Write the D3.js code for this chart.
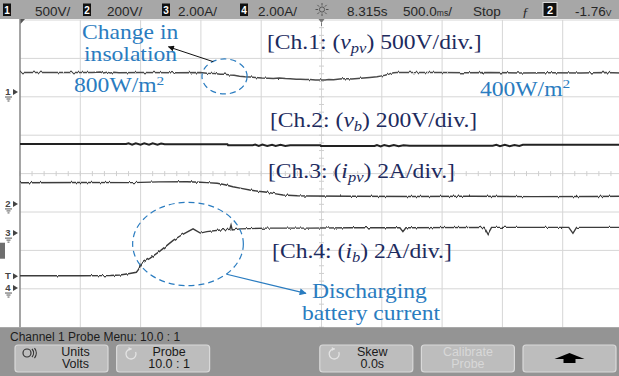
<!DOCTYPE html>
<html><head><meta charset="utf-8">
<script src="https://cdn.jsdelivr.net/npm/d3@7"></script>
<style>html,body{margin:0;padding:0;background:#fff;overflow:hidden}</style>
</head><body><svg id="c" width="619" height="376"></svg>
<script>
// ---- data: time in seconds (500 ms/div), vertical value in screen divisions ----
const ch1 = [[0,2.63],[0.3,2.63],[0.6,2.632],[0.665,2.645],[0.69,2.62],[0.72,2.642],[0.75,2.618],[0.78,2.64],[0.82,2.628],[1.0,2.63],[1.3,2.628],[1.495,2.63],[1.55,2.615],[1.615,2.605],[1.66,2.59],[1.7,2.585],[1.74,2.57],[1.775,2.56],[1.82,2.535],[1.865,2.52],[1.91,2.515],[1.95,2.505],[2.005,2.49],[2.06,2.485],[2.1,2.478],[2.15,2.492],[2.2,2.475],[2.24,2.47],[2.29,2.458],[2.325,2.455],[2.37,2.448],[2.405,2.45],[2.45,2.44],[2.53,2.437],[2.56,2.448],[2.6,2.445],[2.65,2.462],[2.68,2.47],[2.72,2.468],[2.75,2.465],[2.8,2.478],[2.85,2.49],[2.9,2.505],[2.96,2.52],[3.0,2.545],[3.025,2.56],[3.06,2.59],[3.075,2.61],[3.1,2.625],[3.125,2.635],[3.3,2.63],[3.5,2.635],[3.7,2.625],[3.9,2.632],[4.15,2.62],[4.4,2.628],[4.65,2.62],[4.85,2.63],[5.0,2.622]];
const ch2 = [[0,0.771],[0.88,0.771],[0.9,0.79],[0.93,0.752],[0.96,0.79],[1.0,0.755],[1.03,0.788],[1.07,0.752],[1.1,0.79],[1.14,0.755],[1.17,0.785],[1.2,0.763],[1.72,0.763],[1.725,0.74],[1.93,0.74],[1.95,0.755],[1.98,0.72],[2.01,0.755],[2.05,0.72],[2.09,0.752],[2.12,0.722],[2.16,0.75],[2.2,0.72],[2.24,0.74],[2.49,0.74],[2.495,0.719],[2.94,0.719],[2.96,0.745],[2.99,0.71],[3.02,0.742],[3.06,0.71],[3.1,0.745],[3.14,0.712],[3.18,0.74],[3.23,0.728],[3.92,0.728],[3.95,0.75],[3.98,0.715],[4.02,0.748],[4.06,0.715],[4.1,0.745],[4.14,0.72],[4.17,0.75],[5.0,0.75]];
const ch3 = [[0,-0.237],[0.5,-0.232],[0.93,-0.235],[1.15,-0.215],[1.385,-0.211],[1.495,-0.225],[1.55,-0.235],[1.635,-0.253],[1.7,-0.29],[1.765,-0.341],[1.835,-0.385],[1.905,-0.427],[1.975,-0.46],[2.05,-0.487],[2.11,-0.52],[2.18,-0.557],[2.3,-0.575],[2.405,-0.583],[2.75,-0.59],[3.25,-0.595],[3.75,-0.59],[4.25,-0.6],[4.75,-0.595],[5.0,-0.59]];
const ch4 = [[0,-2.659],[0.5,-2.66],[0.75,-2.655],[0.83,-2.64],[0.91,-2.60],[0.965,-2.57],[0.98,-2.51],[1.01,-2.33],[1.08,-2.2],[1.16,-2.02],[1.27,-1.74],[1.35,-1.58],[1.435,-1.44],[1.495,-1.55],[1.55,-1.51],[1.66,-1.47],[1.74,-1.45],[1.75,-1.34],[1.76,-1.47],[1.825,-1.44],[2.05,-1.42],[2.405,-1.42],[2.75,-1.41],[3.15,-1.41],[3.175,-1.51],[3.2,-1.41],[3.85,-1.40],[3.88,-1.573],[3.91,-1.40],[4.55,-1.40],[4.585,-1.555],[4.615,-1.40],[5.0,-1.40]];

const headerItems = [
  {box:"1", text:"500V/"}, {box:"2", text:"200V/"}, {box:"3", text:"2.00A/"}, {box:"4", text:"2.00A/"}
];
const statusTime = "8.315s";
const statusRun = "Stop";
const trigLevel = "-1.76";
const chMarkers = [{label:"1", level:2.125, gnd:true},{label:"2", level:-0.79, gnd:true},{label:"3", level:-1.55, gnd:true},{label:"T", level:-2.67, gnd:false},{label:"4", level:-2.98, gnd:true}];
const menuTitle = "Channel 1  Probe Menu: 10.0 : 1";
const buttons = [
  {l1:"Units", l2:"Volts", icon:"knob", dim:false},
  {l1:"Probe", l2:"10.0 : 1", icon:"rot", dim:false},
  null,
  {l1:"Skew", l2:"0.0s", icon:"rot", dim:false},
  {l1:"Calibrate", l2:"Probe", icon:null, dim:true},
  {l1:null, l2:null, icon:"up", dim:false}
];

// ---- drawing ----
const W=619, H=376;
const svg = d3.select('#c');
const x = d3.scaleLinear().domain([0,5]).range([20, 20+10*60.3]);
const y = d3.scaleLinear().domain([4,-4]).range([20, 20+8*38.4]);

const defs = svg.append('defs');
defs.append('clipPath').attr('id','plotclip').append('rect')
  .attr('x',x(0)).attr('y',y(4)).attr('width',W-x(0)).attr('height',y(-4)-y(4));
const f = defs.append('filter').attr('id','jit').attr('x','-2%').attr('y','-200%').attr('width','104%').attr('height','500%')
  .attr('color-interpolation-filters','sRGB');
f.append('feTurbulence').attr('type','fractalNoise').attr('baseFrequency','0.45 0.01').attr('numOctaves',1).attr('seed',4).attr('result','n');
f.append('feColorMatrix').attr('in','n').attr('type','matrix')
  .attr('values','0 0 0 0 0.5  1 0 0 0 0  0 0 0 0 0  0 0 0 0 1').attr('result','m');
f.append('feDisplacementMap').attr('in','SourceGraphic').attr('in2','m').attr('scale',3.2)
  .attr('xChannelSelector','R').attr('yChannelSelector','G');

function arrowMarker(id, color, w, h){
  const m = defs.append('marker').attr('id',id).attr('viewBox','0 0 10 10').attr('refX',9).attr('refY',5)
    .attr('markerUnits','userSpaceOnUse').attr('markerWidth',w).attr('markerHeight',h).attr('orient','auto');
  m.append('path').attr('d','M0,0 L10,5 L0,10 Z').attr('fill',color);
}
arrowMarker('ahBlack','#111',8,6);
arrowMarker('ahBlue','#2a7cc0',9,7);

svg.append('rect').attr('width',W).attr('height',H).attr('fill','#fff');

// grid
const grid = svg.append('g');
grid.selectAll('line.v').data(d3.range(0.5,5.001,0.5)).join('line')
  .attr('x1',d=>x(d)).attr('x2',d=>x(d)).attr('y1',y(4)).attr('y2',y(-4))
  .attr('stroke','#d6d6d6').attr('stroke-width',1);
grid.selectAll('line.h').data(d3.range(-3,4.001,1)).join('line')
  .attr('x1',x(0)).attr('x2',W).attr('y1',d=>y(d)).attr('y2',d=>y(d))
  .attr('stroke','#d6d6d6').attr('stroke-width',1);
grid.selectAll('line.mt').data(d3.range(0,5.001,0.1)).join('line')
  .attr('x1',d=>x(d)).attr('x2',d=>x(d)).attr('y1',y(0)-2.5).attr('y2',y(0)+2.5)
  .attr('stroke','#cfcfcf').attr('stroke-width',1);
grid.selectAll('line.mv').data(d3.range(-4,4.001,0.2)).join('line')
  .attr('x1',x(2.5)-2.5).attr('x2',x(2.5)+2.5).attr('y1',d=>y(d)).attr('y2',d=>y(d))
  .attr('stroke','#cfcfcf').attr('stroke-width',1);
grid.append('line').attr('x1',x(0)).attr('x2',x(0)).attr('y1',0).attr('y2',y(-4))
  .attr('stroke','#8e8e8e').attr('stroke-width',1.6);

// traces
const line = d3.line().x(d=>x(d[0])).y(d=>y(d[1]));
const tr = svg.append('g').attr('clip-path','url(#plotclip)');
tr.append('path').datum(ch1).attr('d',line).attr('fill','none').attr('stroke','#4a4a4a').attr('stroke-width',1.5).attr('filter','url(#jit)');
tr.append('path').datum(ch2).attr('d',line).attr('fill','none').attr('stroke','#222').attr('stroke-width',2);
tr.append('path').datum(ch3).attr('d',line).attr('fill','none').attr('stroke','#3c3c3c').attr('stroke-width',1.4).attr('filter','url(#jit)');
tr.append('path').datum(ch4).attr('d',line).attr('fill','none').attr('stroke','#3c3c3c').attr('stroke-width',1.4).attr('filter','url(#jit)');

// channel markers on left
const mk = svg.append('g').attr('fill','#444').attr('font-family','Liberation Sans, Arial, sans-serif');
chMarkers.forEach(m=>{
  const yy = y(m.level);
  mk.append('text').attr('x',8).attr('y',yy+3).attr('font-size',9.5).attr('font-weight','bold').attr('text-anchor','middle').text(m.label);
  mk.append('path').attr('d',`M13,${yy-3} L18,${yy} L13,${yy+3} Z`);
  if(m.gnd){
    mk.append('path').attr('d',`M5,${yy+5} H12 M6.5,${yy+7} H10.5 M7.5,${yy+9} H9.5`).attr('stroke','#555').attr('stroke-width',1);
  }
});
svg.append('rect').attr('x',0).attr('y',y(-1.8)).attr('width',5).attr('height',16).attr('fill','#6e6e6e');

// header
const hdr = svg.append('g').attr('font-family','Liberation Sans, Arial, sans-serif').attr('font-size',13.5).attr('fill','#262626');
hdr.append('rect').attr('width',W).attr('height',19).attr('fill','#a7a7a7');
const hdrPos = [[3,35],[83,107],[162,178],[240,258]];
headerItems.forEach((h,i)=>{
  hdr.append('rect').attr('x',hdrPos[i][0]).attr('y',3.5).attr('width',8).attr('height',12.5).attr('fill','#111');
  hdr.append('text').attr('x',hdrPos[i][0]+4).attr('y',14).attr('font-size',10).attr('font-weight','bold').attr('fill','#fff').attr('text-anchor','middle').text(h.box);
  hdr.append('text').attr('x',hdrPos[i][1]).attr('y',15.5).text(h.text);
});
// acquisition icon
const sun = hdr.append('g').attr('transform','translate(322,9.5)').attr('stroke','#555').attr('stroke-width',1).attr('fill','none');
sun.append('circle').attr('r',2.6);
d3.range(8).forEach(k=>{const a=k*Math.PI/4; sun.append('line').attr('x1',4*Math.cos(a)).attr('y1',4*Math.sin(a)).attr('x2',6.5*Math.cos(a)).attr('y2',6.5*Math.sin(a));});
hdr.append('text').attr('x',347).attr('y',15.5).text(statusTime);
const tb = hdr.append('text').attr('x',403).attr('y',15.5);
tb.append('tspan').text('500.0'); tb.append('tspan').attr('font-size',8.5).text('ms'); tb.append('tspan').text('/');
hdr.append('text').attr('x',473).attr('y',15.5).text(statusRun);
hdr.append('text').attr('x',522).attr('y',15.5).attr('font-style','italic').attr('font-family','Liberation Serif, serif').text('ƒ');
hdr.append('rect').attr('x',543).attr('y',2.5).attr('width',14).attr('height',14).attr('fill','#111').attr('stroke','#ddd').attr('stroke-width',1);
hdr.append('text').attr('x',550).attr('y',14).attr('font-size',11).attr('font-weight','bold').attr('fill','#fff').attr('text-anchor','middle').text('2');
const tl = hdr.append('text').attr('x',575).attr('y',15.5);
tl.append('tspan').text(trigLevel); tl.append('tspan').attr('font-size',8.5).text('V');
// top markers
svg.append('path').attr('d',`M${x(0)+0.5},19 L${x(0)+5},19 L${x(0)+0.5},24 Z`).attr('fill','#555');
svg.append('path').attr('d',`M${x(2.5)-3},19 L${x(2.5)+3},19 L${x(2.5)},23 Z M${x(2.5)-0.5},23 h1 v3 h-1 Z`).attr('fill','#777');

// annotations
const blue = '#2a7cc0', navy = '#1d2b5e';
const ann = svg.append('g').attr('font-family','Liberation Serif, Times New Roman, serif').attr('font-size',20);
function label(t, v, color){
  return ann.append('text').attr('transform',`translate(${x(t)},${y(v)}) scale(1.18,1)`).attr('fill',color);
}
label(0.514,3.518,blue).text('Change in');
label(0.531,2.940,blue).text('insolation');
let tt = label(0.448,2.112,blue); tt.append('tspan').text('800W/m'); tt.append('tspan').attr('font-size',13).attr('dy',-8).text('2');
tt = label(3.814,2.021,blue); tt.append('tspan').text('400W/m'); tt.append('tspan').attr('font-size',13).attr('dy',-8).text('2');
function chLabel(t, v, num, sym, sub, scale){
  const e = label(t, v, navy);
  e.append('tspan').text(`[Ch.${num}: (`);
  e.append('tspan').attr('font-style','italic').text(sym);
  e.append('tspan').attr('font-style','italic').attr('font-size',14).attr('dy',4).text(sub);
  e.append('tspan').attr('dy',-4).text(`) ${scale}/div.]`);
}
chLabel(2.048,3.245,'1','v','pv','500V');
chLabel(2.073,1.214,'2','v','b','200V');
chLabel(2.056,-0.115,'3','i','pv','2A');
chLabel(2.090,-2.198,'4','i','b','2A');
label(2.421,-3.240,blue).text('Discharging');
label(2.338,-3.813,blue).text('battery current');

// ellipses + arrows
const ellipses = [{t:1.696, v:2.53, rt:0.187, rv:0.456},{t:1.393, v:-1.833, rt:0.459, rv:1.086}];
svg.selectAll('ellipse.a').data(ellipses).join('ellipse')
  .attr('cx',d=>x(d.t)).attr('cy',d=>y(d.v)).attr('rx',d=>x(d.rt)-x(0)).attr('ry',d=>y(-d.rv)-y(0))
  .attr('fill','none').attr('stroke',blue).attr('stroke-width',1.2).attr('stroke-dasharray','6,4');
svg.append('line').attr('x1',x(1.603)).attr('y1',y(2.914)).attr('x2',x(1.231)).attr('y2',y(3.302))
  .attr('stroke','#111').attr('stroke-width',1).attr('marker-end','url(#ahBlack)');
svg.append('line').attr('x1',x(1.714)).attr('y1',y(-2.622)).attr('x2',x(2.371)).attr('y2',y(-3.117))
  .attr('stroke',blue).attr('stroke-width',1.2).attr('marker-end','url(#ahBlue)');

// bottom menu panel
const pan = svg.append('g').attr('font-family','Liberation Sans, Arial, sans-serif');
pan.append('rect').attr('x',0).attr('y',y(-4)).attr('width',W).attr('height',H-y(-4)).attr('fill','#949494');
pan.append('text').attr('x',10).attr('y',341).attr('font-size',12).attr('fill','#1c1c1c').text(menuTitle);
const bx0 = 15, bw = 93, bstep = 101.6;
buttons.forEach((b,i)=>{
  if(!b) return;
  const bx = bx0 + i*bstep, cx = bx + bw/2;
  const g = pan.append('g');
  g.append('rect').attr('x',bx).attr('y',345).attr('width',bw).attr('height',27).attr('rx',3)
    .attr('fill','#bdbdbd').attr('stroke','#d9d9d9').attr('stroke-width',1.2);
  const tc = b.dim ? '#d8d8d8' : '#1a1a1a';
  const tx = b.icon==='knob' ? cx+14 : (b.icon==='rot' ? cx+6 : cx);
  if(b.l1){
    g.append('text').attr('x',tx).attr('y',355.5).attr('text-anchor','middle').attr('font-size',12.5).attr('fill',tc).text(b.l1);
    g.append('text').attr('x',tx).attr('y',368).attr('text-anchor','middle').attr('font-size',12.5).attr('fill',tc).text(b.l2);
  }
  if(b.icon==='knob'){
    g.append('circle').attr('cx',bx+12).attr('cy',353).attr('r',4).attr('fill','none').attr('stroke','#333').attr('stroke-width',1.2);
    g.append('path').attr('d',`M${bx+17},349 a6,6 0 0 1 0,8`).attr('fill','none').attr('stroke','#333').attr('stroke-width',1.2);
    g.append('path').attr('d',`M${bx+19.5},348 a8,8 0 0 1 0,10`).attr('fill','none').attr('stroke','#333').attr('stroke-width',1.2);
  } else if(b.icon==='rot'){
    g.append('path').attr('d',`M${bx+15},349 a5,5 0 1 0 4,3`).attr('fill','none').attr('stroke','#e3e3e3').attr('stroke-width',1.3);
    g.append('path').attr('d',`M${bx+12},347 l3,2 l-3,2 Z`).attr('fill','#e3e3e3');
  } else if(b.icon==='up'){
    g.append('path').attr('d',`M${cx-15},359 L${cx},353 L${cx+15},359 Z M${cx-6},359 h12 v4 h-12 Z`).attr('fill','#000');
  }
});
</script>
</body></html>
